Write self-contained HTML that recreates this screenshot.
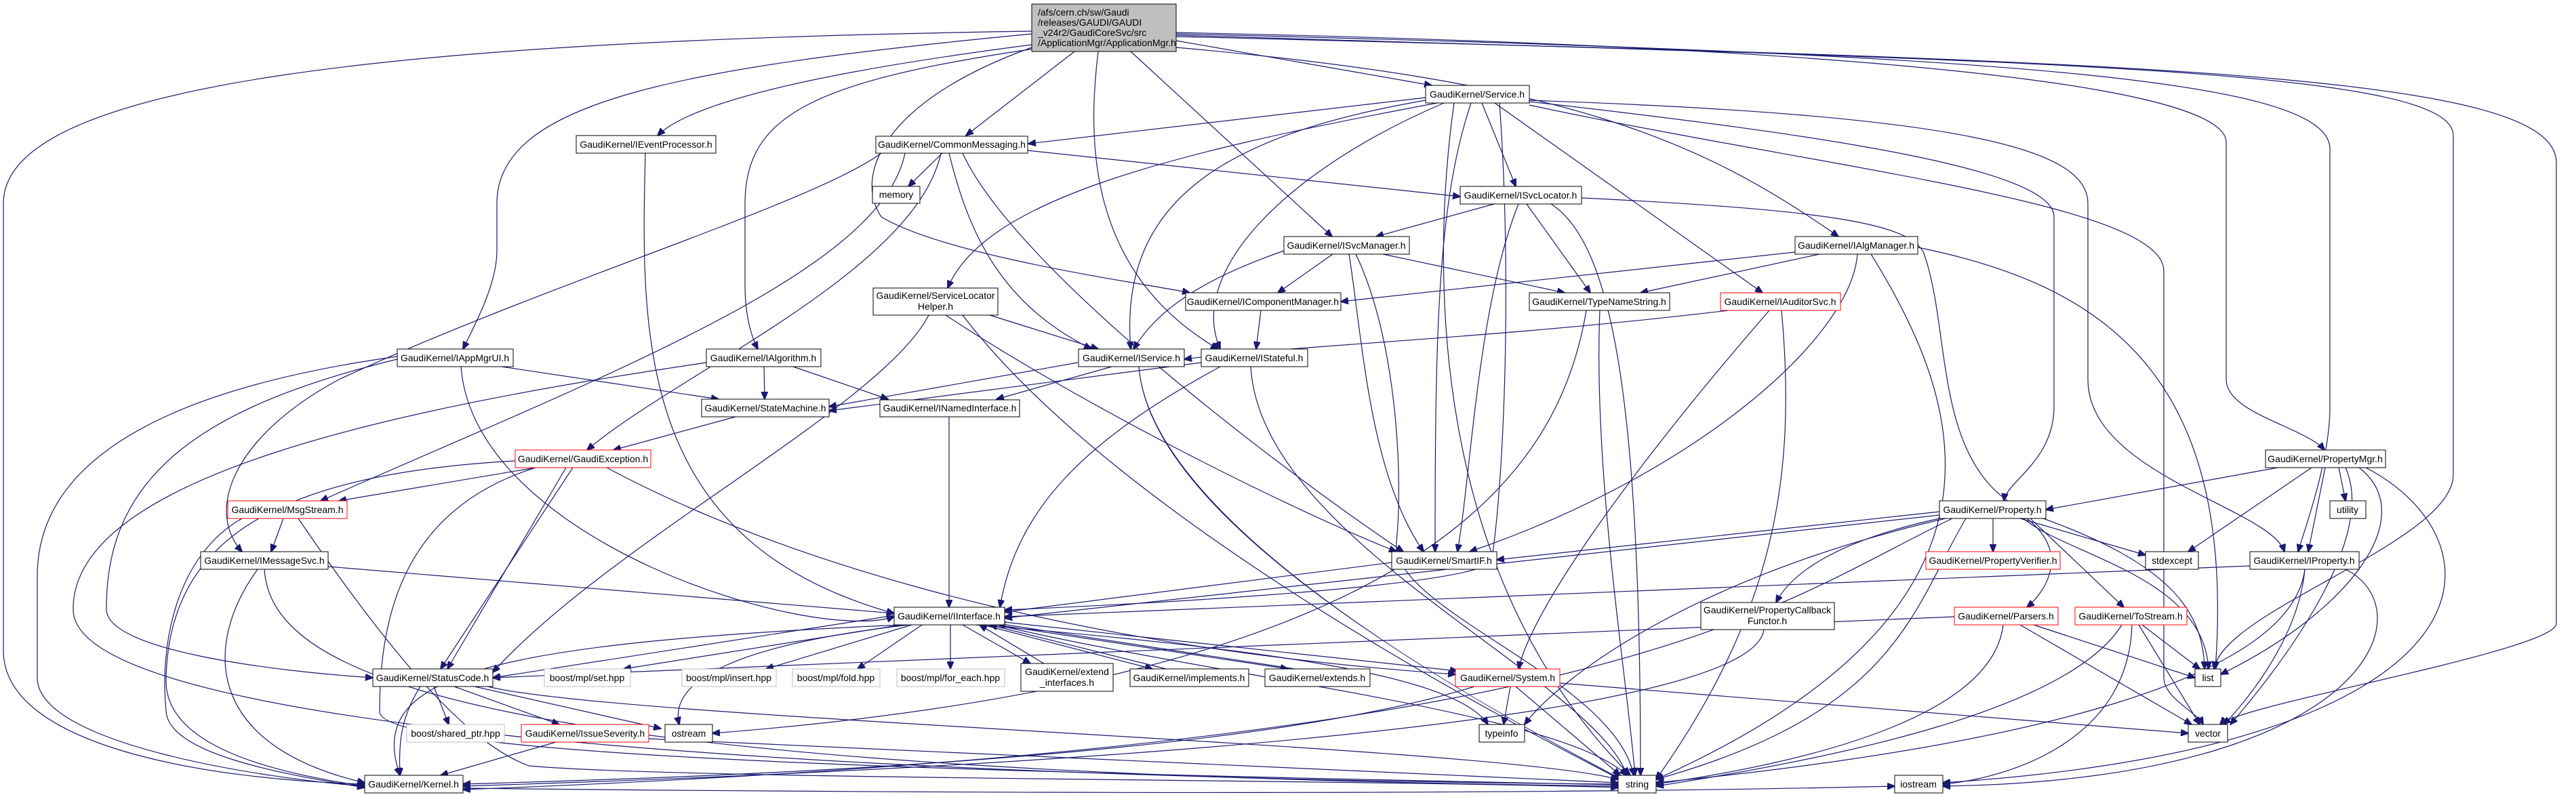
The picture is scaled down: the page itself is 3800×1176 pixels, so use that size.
<!DOCTYPE html>
<html><head><meta charset="utf-8"><style>
html,body{margin:0;padding:0;background:#fff;}
svg{display:block;}
text{font-family:"Liberation Sans",sans-serif;font-size:14px;fill:#000;}
.e{fill:none;stroke:#191970;stroke-width:1.2;marker-end:url(#a);}
.n{fill:#fff;stroke:#000;stroke-width:1;}
.r{fill:#fff;stroke:#ff0000;stroke-width:1;}
.g{fill:#fff;stroke:#bfbfbf;stroke-width:1;}
</style></head><body>
<svg width="3800" height="1176" viewBox="0 0 3800 1176" xmlns="http://www.w3.org/2000/svg">
<defs><marker id="a" markerUnits="userSpaceOnUse" markerWidth="12" markerHeight="10" refX="11" refY="5" orient="auto"><path d="M0,0 L12,5 L0,10 z" fill="#191970" stroke="#191970"/></marker></defs>
<g>
<!-- root edges -->
<path class="e" d="M1522,46 C600,60 5,120 5,300 L5,960 C5,1100 300,1150 538,1157"/>
<path class="e" d="M1522,50 C1000,100 733,150 733,300 L733,370 C733,420 700,480 683,515"/>
<path class="e" d="M1530,65 C1100,120 1000,170 970,200"/>
<path class="e" d="M1525,72 C1200,120 1099,170 1099,300 L1099,420 C1099,470 1110,500 1118,515"/>
<path class="e" d="M1585,76 L1425,200"/>
<path class="e" d="M1620,76 C1605,200 1600,400 1797,515"/>
<path class="e" d="M1668,76 L1965,349"/>
<path class="e" d="M1735,60 L2112,126"/>
<path class="e" d="M1735,70 C2300,120 2500,200 2712,349"/>
<path class="e" d="M1735,48 C2800,70 3284,130 3284,210 L3284,560 C3284,610 3400,630 3429,664"/>
<path class="e" d="M1735,50 C3000,80 3437,120 3437,220 L3437,600 C3437,680 3400,780 3390,814"/>
<path class="e" d="M1735,52 C3000,90 3619,100 3619,200 L3619,700 C3619,800 3280,900 3266,987"/>
<path class="e" d="M1735,54 C3200,90 3771,110 3771,240 L3771,920 C3771,960 3300,1040 3275,1069"/>
<path class="e" d="M1522,70 C1300,150 1260,260 1300,320 C1400,380 1700,420 1755,432"/>
<!-- Service.h -->
<path class="e" d="M2103,144 L1517,212"/>
<path class="e" d="M2103,148 C1800,200 1650,300 1668,515"/>
<path class="e" d="M2130,152 C1900,250 1750,400 1800,515"/>
<path class="e" d="M2120,152 C1700,230 1450,300 1398,425"/>
<path class="e" d="M2170,152 C2120,300 2117,500 2117,814"/>
<path class="e" d="M2186,152 L2236,275"/>
<path class="e" d="M2212,152 C2230,400 2220,700 2200,830 C2150,870 1600,895 1482,900"/>
<path class="e" d="M2205,152 L2600,432"/>
<path class="e" d="M2256,150 C2700,200 3030,250 3030,320 L3030,600 C3030,680 2960,710 2956,739"/>
<path class="e" d="M2256,148 C2900,170 3080,220 3080,300 L3080,560 C3080,700 3350,750 3370,814"/>
<path class="e" d="M2256,155 C2700,250 3192,300 3192,400 L3192,1000 C3192,1030 3240,1050 3250,1069"/>
<path class="e" d="M2145,152 C2110,400 2110,850 2405,1144"/>
<!-- ISvcLocator -->
<path class="e" d="M2204,301 L2030,349"/>
<path class="e" d="M2240,301 C2180,450 2170,700 2150,814"/>
<path class="e" d="M2252,301 L2346,432"/>
<path class="e" d="M2288,301 C2380,360 2420,600 2420,1144"/>
<path class="e" d="M2333,292 C2700,310 2830,330 2840,380 C2880,500 2850,700 3000,760 C3200,830 3250,900 3252,987"/>
<!-- ISvcManager -->
<path class="e" d="M1894,370 C1750,420 1700,470 1672,515"/>
<path class="e" d="M1966,375 L1885,432"/>
<path class="e" d="M2040,375 L2308,432"/>
<path class="e" d="M1990,375 C2010,500 2020,700 2100,814"/>
<path class="e" d="M2000,375 C2060,500 2070,700 2060,800 C2050,900 2380,1000 2410,1144"/>
<!-- IAlgManager -->
<path class="e" d="M2648,372 L1978,445"/>
<path class="e" d="M2684,375 L2420,432"/>
<path class="e" d="M2740,375 C2730,500 2500,700 2168,814"/>
<path class="e" d="M2829,365 C3100,420 3300,550 3268,987"/>
<path class="e" d="M2760,375 C2900,600 3000,900 2443,1150"/>
<!-- misc mid -->
<path class="e" d="M1860,458 L1853,515"/>
<path class="e" d="M2360,458 C2350,700 2400,1000 2412,1144"/>
<path class="e" d="M2340,458 C2300,700 2100,1000 1051,1082"/>
<path class="e" d="M2550,458 C2200,500 1900,510 1747,530"/>
<path class="e" d="M2610,458 C2400,700 2260,900 2240,987"/>
<path class="e" d="M2628,458 C2650,700 2620,900 2443,1150"/>
<path class="e" d="M1460,465 L1620,515"/>
<path class="e" d="M1395,465 C1600,600 1900,750 2060,814"/>
<path class="e" d="M1370,465 C1300,600 900,800 727,992"/>
<path class="e" d="M1420,465 C1600,700 2000,950 2390,1150"/>
<path class="e" d="M1640,541 L1470,589"/>
<path class="e" d="M1590,535 L1223,600"/>
<path class="e" d="M1680,541 C1700,800 2300,1100 2392,1150"/>
<path class="e" d="M1772,535 L1223,606"/>
<path class="e" d="M1800,541 C1600,650 1500,750 1475,896"/>
<path class="e" d="M1845,541 C1860,800 2350,1000 2400,1144"/>
<path class="e" d="M740,541 L1060,589"/>
<path class="e" d="M680,541 C700,800 1200,950 1319,910"/>
<path class="e" d="M586,530 C300,600 155,700 157,900 C160,960 400,990 550,1000"/>
<path class="e" d="M586,526 C200,580 55,700 55,850 L55,1000 C55,1100 400,1150 538,1160"/>
<path class="e" d="M1127,541 L1128,589"/>
<path class="e" d="M1170,541 L1310,589"/>
<path class="e" d="M1042,535 C600,600 105,700 108,900 C110,1100 1500,1150 2387,1157"/>
<path class="e" d="M952,226 C945,500 940,800 1319,905"/>
<path class="e" d="M1390,226 L1340,275"/>
<path class="e" d="M1516,222 L2154,290"/>
<path class="e" d="M1335,226 C1300,400 900,550 473,739"/>
<path class="e" d="M1300,226 C1200,300 800,420 500,560 C350,640 300,750 357,814"/>
<path class="e" d="M1400,226 C1430,350 1480,450 1610,515"/>
<path class="e" d="M1420,226 C1500,400 1900,700 2070,814"/>
<path class="e" d="M1388,226 C1350,400 1000,550 866,664"/>
<path class="e" d="M1085,615 L905,664"/>
<path class="e" d="M1400,615 L1400,896"/>
<!-- lower left -->
<path class="e" d="M790,690 L500,739"/>
<path class="e" d="M845,690 L650,987"/>
<path class="e" d="M835,690 L660,987"/>
<path class="e" d="M895,690 C1100,800 1500,950 2147,995"/>
<path class="e" d="M760,680 C400,700 250,800 245,1000 C240,1100 400,1140 538,1160"/>
<path class="e" d="M790,690 C600,750 560,900 560,1050 C560,1120 1500,1140 2387,1158"/>
<path class="e" d="M418,765 L400,814"/>
<path class="e" d="M357,765 C260,820 235,950 245,1050 C250,1110 400,1140 538,1162"/>
<path class="e" d="M440,765 C600,1000 700,1100 780,1130 C1000,1150 2000,1150 2387,1162"/>
<path class="e" d="M484,836 L1319,905"/>
<path class="e" d="M380,840 C300,950 300,1100 538,1155"/>
<path class="e" d="M390,840 C400,1000 700,1140 2387,1160"/>
<!-- IInterface -->
<path class="e" d="M1319,908 L727,1000"/>
<path class="e" d="M1330,922 L920,987"/>
<path class="e" d="M1345,922 L1130,987"/>
<path class="e" d="M1360,922 L1265,987"/>
<path class="e" d="M1402,922 L1402,987"/>
<path class="e" d="M1420,922 L1520,979"/>
<path class="e" d="M1450,922 L1700,987"/>
<path class="e" d="M1470,922 L1900,987"/>
<path class="e" d="M1482,918 L2150,990"/>
<path class="e" d="M1340,922 C1100,950 985,1000 1002,1069"/>
<path class="e" d="M1330,922 C700,950 540,1000 590,1144"/>
<path class="e" d="M1440,922 C1900,960 2150,1000 2195,1069"/>
<path class="e" d="M1470,922 C1800,1000 2300,1050 2400,1144"/>
<path class="e" d="M1540,979 L1445,922"/>
<path class="e" d="M1720,987 L1460,922"/>
<path class="e" d="M1910,987 L1472,920"/>
<path class="e" d="M2053,830 L1482,903"/>
<!-- StatusCode etc -->
<path class="e" d="M640,1013 L662,1069"/>
<path class="e" d="M670,1013 L825,1069"/>
<path class="e" d="M700,1013 L975,1075"/>
<path class="e" d="M620,1013 C590,1060 588,1100 590,1144"/>
<path class="e" d="M720,1013 C900,1060 2200,1100 2387,1150"/>
<path class="e" d="M820,1095 L650,1144"/>
<path class="e" d="M957,1090 L2387,1155"/>
<path class="e" d="M2228,1013 L2218,1069"/>
<path class="e" d="M2236,1013 L2390,1144"/>
<path class="e" d="M2301,1008 L3228,1082"/>
<path class="e" d="M2175,1013 C1800,1130 900,1150 683,1157"/>
<!-- Property -->
<path class="e" d="M2861,755 L2208,826"/>
<path class="e" d="M2940,765 L2940,814"/>
<path class="e" d="M2980,765 L3165,819"/>
<path class="e" d="M2990,765 C3060,820 3010,880 2990,896"/>
<path class="e" d="M2995,765 L3133,896"/>
<path class="e" d="M2861,765 C2700,800 2640,850 2620,889"/>
<path class="e" d="M2870,765 C2500,850 2300,1000 2249,1069"/>
<path class="e" d="M2861,760 L1482,912"/>
<path class="e" d="M2900,765 C2820,900 2800,1050 2443,1150"/>
<path class="e" d="M2880,765 C2600,900 2400,1100 683,1165"/>
<path class="e" d="M2985,765 C3050,820 3250,850 3258,987"/>
<path class="e" d="M3360,690 L3018,752"/>
<path class="e" d="M3450,690 L3460,739"/>
<path class="e" d="M3410,690 L3228,814"/>
<path class="e" d="M3430,690 L3405,814"/>
<path class="e" d="M3460,690 C3510,800 3350,1000 3290,1069"/>
<path class="e" d="M3490,690 C3700,800 3700,1100 2866,1155"/>
<path class="e" d="M3480,690 C3570,760 3470,900 3276,995"/>
<path class="e" d="M3319,835 L1482,910"/>
<path class="e" d="M3400,840 C3380,1000 3000,1100 2443,1155"/>
<path class="e" d="M3400,840 C3390,950 3300,1050 3280,1069"/>
<path class="e" d="M3460,840 C3580,900 3500,1150 2866,1160"/>
<path class="e" d="M2883,910 L727,1000"/>
<path class="e" d="M3000,922 L3238,1000"/>
<path class="e" d="M2980,922 L3233,1069"/>
<path class="e" d="M2955,922 C2940,1050 2700,1120 2443,1157"/>
<path class="e" d="M3160,922 L3245,987"/>
<path class="e" d="M3155,922 L3245,1069"/>
<path class="e" d="M3130,922 C3050,1050 2700,1120 2443,1160"/>
<path class="e" d="M3145,922 C3140,1100 2950,1150 2866,1157"/>
<path class="e" d="M2602,929 C2580,1100 1000,1150 683,1160"/>
<path class="e" d="M683,1163 C1500,1172 2300,1172 2795,1160"/>
</g>
<g>
<rect x="1522" y="6" width="213" height="70" fill="#bfbfbf" stroke="#000"/>
<text x="1531" y="23">/afs/cern.ch/sw/Gaudi</text>
<text x="1531" y="38">/releases/GAUDI/GAUDI</text>
<text x="1531" y="53">_v24r2/GaudiCoreSvc/src</text>
<text x="1531" y="68">/ApplicationMgr/ApplicationMgr.h</text>
</g>
<g text-anchor="middle">
<rect class="n" x="850" y="200" width="206" height="26"/><text x="953" y="218">GaudiKernel/IEventProcessor.h</text>
<rect class="n" x="1292" y="201" width="224" height="25"/><text x="1404" y="218">GaudiKernel/CommonMessaging.h</text>
<rect class="n" x="1287" y="275" width="70" height="25"/><text x="1322" y="292">memory</text>
<rect class="n" x="2103" y="126" width="153" height="26"/><text x="2179" y="144">GaudiKernel/Service.h</text>
<rect class="n" x="2154" y="275" width="179" height="26"/><text x="2243" y="293">GaudiKernel/ISvcLocator.h</text>
<rect class="n" x="1894" y="349" width="185" height="26"/><text x="1986" y="367">GaudiKernel/ISvcManager.h</text>
<rect class="n" x="2648" y="349" width="181" height="26"/><text x="2738" y="367">GaudiKernel/IAlgManager.h</text>
<rect class="n" x="1288" y="425" width="184" height="40"/><text x="1380" y="441">GaudiKernel/ServiceLocator</text><text x="1380" y="457">Helper.h</text>
<rect class="n" x="1749" y="432" width="229" height="26"/><text x="1863" y="450">GaudiKernel/IComponentManager.h</text>
<rect class="n" x="2256" y="432" width="207" height="26"/><text x="2359" y="450">GaudiKernel/TypeNameString.h</text>
<rect class="r" x="2538" y="432" width="177" height="26"/><text x="2626" y="450">GaudiKernel/IAuditorSvc.h</text>
<rect class="n" x="586" y="515" width="171" height="26"/><text x="671" y="533">GaudiKernel/IAppMgrUI.h</text>
<rect class="n" x="1042" y="515" width="169" height="26"/><text x="1126" y="533">GaudiKernel/IAlgorithm.h</text>
<rect class="n" x="1591" y="515" width="156" height="26"/><text x="1669" y="533">GaudiKernel/IService.h</text>
<rect class="n" x="1772" y="515" width="157" height="26"/><text x="1850" y="533">GaudiKernel/IStateful.h</text>
<rect class="n" x="1035" y="589" width="188" height="26"/><text x="1129" y="607">GaudiKernel/StateMachine.h</text>
<rect class="n" x="1298" y="590" width="206" height="25"/><text x="1401" y="607">GaudiKernel/INamedInterface.h</text>
<rect class="r" x="760" y="664" width="200" height="26"/><text x="860" y="682">GaudiKernel/GaudiException.h</text>
<rect class="n" x="3342" y="664" width="177" height="26"/><text x="3430" y="682">GaudiKernel/PropertyMgr.h</text>
<rect class="r" x="336" y="739" width="176" height="26"/><text x="424" y="757">GaudiKernel/MsgStream.h</text>
<rect class="n" x="2861" y="739" width="157" height="26"/><text x="2939" y="757">GaudiKernel/Property.h</text>
<rect class="n" x="3437" y="739" width="53" height="26"/><text x="3463" y="757">utility</text>
<rect class="n" x="296" y="814" width="188" height="26"/><text x="390" y="832">GaudiKernel/IMessageSvc.h</text>
<rect class="n" x="2053" y="814" width="155" height="26"/><text x="2130" y="832">GaudiKernel/SmartIF.h</text>
<rect class="r" x="2841" y="814" width="198" height="26"/><text x="2940" y="832">GaudiKernel/PropertyVerifier.h</text>
<rect class="n" x="3165" y="814" width="78" height="26"/><text x="3204" y="832">stdexcept</text>
<rect class="n" x="3319" y="814" width="161" height="26"/><text x="3399" y="832">GaudiKernel/IProperty.h</text>
<rect class="n" x="1319" y="896" width="163" height="26"/><text x="1400" y="914">GaudiKernel/IInterface.h</text>
<rect class="n" x="2509" y="889" width="197" height="40"/><text x="2607" y="905">GaudiKernel/PropertyCallback</text><text x="2607" y="921">Functor.h</text>
<rect class="r" x="2883" y="896" width="153" height="26"/><text x="2959" y="914">GaudiKernel/Parsers.h</text>
<rect class="r" x="3061" y="896" width="165" height="26"/><text x="3143" y="914">GaudiKernel/ToStream.h</text>
<rect class="n" x="550" y="987" width="177" height="26"/><text x="638" y="1005">GaudiKernel/StatusCode.h</text>
<rect class="g" x="803" y="987" width="127" height="26"/><text x="866" y="1005">boost/mpl/set.hpp</text>
<rect class="g" x="1006" y="987" width="139" height="26"/><text x="1075" y="1005">boost/mpl/insert.hpp</text>
<rect class="g" x="1169" y="987" width="129" height="26"/><text x="1233" y="1005">boost/mpl/fold.hpp</text>
<rect class="g" x="1323" y="987" width="159" height="26"/><text x="1402" y="1005">boost/mpl/for_each.hpp</text>
<rect class="n" x="1506" y="979" width="136" height="41"/><text x="1574" y="996">GaudiKernel/extend</text><text x="1574" y="1012">_interfaces.h</text>
<rect class="n" x="1667" y="987" width="175" height="26"/><text x="1754" y="1005">GaudiKernel/implements.h</text>
<rect class="n" x="1866" y="987" width="155" height="26"/><text x="1943" y="1005">GaudiKernel/extends.h</text>
<rect class="r" x="2147" y="987" width="154" height="26"/><text x="2224" y="1005">GaudiKernel/System.h</text>
<rect class="n" x="3238" y="987" width="38" height="26"/><text x="3257" y="1005">list</text>
<rect class="g" x="600" y="1069" width="144" height="26"/><text x="672" y="1087">boost/shared_ptr.hpp</text>
<rect class="r" x="769" y="1069" width="188" height="26"/><text x="863" y="1087">GaudiKernel/IssueSeverity.h</text>
<rect class="n" x="981" y="1069" width="70" height="26"/><text x="1016" y="1087">ostream</text>
<rect class="n" x="2182" y="1069" width="67" height="26"/><text x="2215" y="1087">typeinfo</text>
<rect class="n" x="3228" y="1069" width="58" height="26"/><text x="3257" y="1087">vector</text>
<rect class="n" x="538" y="1144" width="145" height="26"/><text x="610" y="1162">GaudiKernel/Kernel.h</text>
<rect class="n" x="2387" y="1144" width="56" height="26"/><text x="2415" y="1162">string</text>
<rect class="n" x="2795" y="1144" width="71" height="26"/><text x="2830" y="1162">iostream</text>
</g>
</svg>
</body></html>
